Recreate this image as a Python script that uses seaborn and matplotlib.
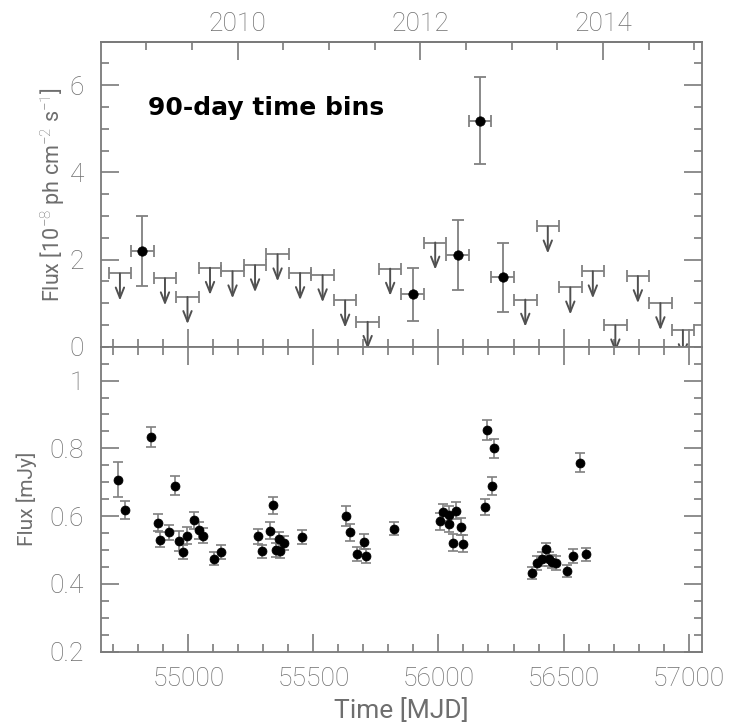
import numpy as np
import pandas as pd
import matplotlib
matplotlib.use("Agg")
import matplotlib.pyplot as plt
import seaborn as sns
from matplotlib.ticker import MultipleLocator, FuncFormatter, FixedLocator

# ---------------- data ----------------
# Top panel: Fermi-LAT 90-day bins (MJD bin centres)
ul_mjd = [54727, 54907, 54997, 55087, 55177, 55267, 55357, 55447, 55537, 55627,
          55717, 55807, 55987, 56347, 56437, 56527, 56617, 56707, 56797, 56887, 56977]
ul_val = [1.68, 1.57, 1.14, 1.81, 1.73, 1.87, 2.12, 1.69, 1.64, 1.06,
          0.57, 1.79, 2.39, 1.08, 2.76, 1.36, 1.73, 0.49, 1.62, 1.00, 0.38]
det_mjd = [54817, 55897, 56077, 56167, 56257]
det_val = [2.20, 1.20, 2.10, 5.19, 1.59]
det_err = [0.80, 0.60, 0.80, 1.00, 0.80]
bin_half_width = 45
year_ticks = [2010, 2012, 2014]

# Bottom panel: radio flux density
radio_mjd = [54718, 54747, 54851, 54878, 54888, 54922, 54948, 54964, 54980, 54994,
             55023, 55043, 55059, 55102, 55130, 55280, 55296, 55328, 55339, 55350,
             55363, 55366, 55384, 55455, 55630, 55648, 55676, 55702, 55712, 55822,
             56007, 56020, 56044, 56042, 56071, 56091, 56060, 56100, 56187, 56195,
             56223, 56215, 56375, 56394, 56414, 56428, 56440, 56454, 56471, 56514,
             56536, 56567, 56590]
radio_flux = [0.707, 0.618, 0.833, 0.580, 0.530, 0.553, 0.690, 0.526, 0.495, 0.542,
              0.588, 0.559, 0.542, 0.475, 0.494, 0.541, 0.496, 0.557, 0.632, 0.500,
              0.532, 0.497, 0.520, 0.538, 0.601, 0.552, 0.488, 0.524, 0.483, 0.563,
              0.585, 0.612, 0.604, 0.577, 0.616, 0.569, 0.522, 0.518, 0.626, 0.854,
              0.800, 0.689, 0.433, 0.462, 0.474, 0.502, 0.474, 0.466, 0.461, 0.438,
              0.483, 0.757, 0.487]
radio_err = [0.052, 0.026, 0.030, 0.025, 0.022, 0.022, 0.027, 0.030, 0.020, 0.025,
             0.025, 0.025, 0.022, 0.018, 0.020, 0.022, 0.020, 0.025, 0.025, 0.020,
             0.022, 0.020, 0.020, 0.020, 0.030, 0.025, 0.020, 0.022, 0.020, 0.020,
             0.025, 0.025, 0.025, 0.025, 0.025, 0.025, 0.025, 0.025, 0.024, 0.030,
             0.028, 0.026, 0.018, 0.020, 0.020, 0.020, 0.020, 0.020, 0.020, 0.018,
             0.020, 0.028, 0.020]

# ---------------- style ----------------
sns.set_style("ticks")
plt.rcParams["font.family"] = ["Roboto", "DejaVu Sans"]
plt.rcParams["font.weight"] = "light"
plt.rcParams["mathtext.fontset"] = "custom"
plt.rcParams["mathtext.rm"] = "Roboto"
plt.rcParams["mathtext.it"] = "Roboto"
plt.rcParams["mathtext.bf"] = "Roboto"

GREY = "#7a7a7a"
TXT = "#6e6e6e"
EC = "#808080"

fig = plt.figure(figsize=(7.3, 7.28), dpi=100)
ax1 = fig.add_axes([0.1379, 0.5238, 0.8233, 0.4190])
ax2 = fig.add_axes([0.1379, 0.1048, 0.8233, 0.4190])

xlim = (54650, 57052)

# ---------------- top panel ----------------
ax1.errorbar(ul_mjd, ul_val, xerr=bin_half_width, fmt="none", ecolor=EC,
             elinewidth=1.3, capsize=4, capthick=1.3, zorder=2)
for m, v in zip(ul_mjd, ul_val):
    ax1.annotate("", xy=(m, v), xytext=(0, -19.5), textcoords="offset points",
                 arrowprops=dict(arrowstyle="<-,head_length=0.75,head_width=0.3",
                                 mutation_scale=10, shrinkA=0, shrinkB=0,
                                 color="#505050", lw=1.4),
                 zorder=2)
ax1.errorbar(det_mjd, det_val, xerr=bin_half_width, yerr=det_err, fmt="none",
             ecolor=EC, elinewidth=1.3, capsize=4.5, capthick=1.3, zorder=2)
top_df = pd.DataFrame({"mjd": det_mjd, "flux": det_val})
sns.scatterplot(data=top_df, x="mjd", y="flux", ax=ax1, color="black", s=46,
                edgecolor="black", linewidth=0.5, zorder=3, legend=False)

ax1.set_xlim(*xlim)
ax1.set_ylim(0, 7)
ax1.yaxis.set_major_locator(MultipleLocator(2))
ax1.yaxis.set_minor_locator(MultipleLocator(0.5))
ax1.xaxis.set_major_locator(MultipleLocator(500))
ax1.xaxis.set_minor_locator(MultipleLocator(100))
ax1.yaxis.set_major_formatter(FuncFormatter(lambda v, p: f"{v:g}"))
ax1.set_xlabel("")
ax1.set_ylabel(r"Flux [10$^{-8}$ ph cm$^{-2}$ s$^{-1}$]", fontsize=15.5,
               color=TXT, labelpad=2)
ax1.tick_params(axis="x", which="both", bottom=True, top=False, labelbottom=False)
ax1.text(0.079, 0.783, "90-day time bins", transform=ax1.transAxes,
         fontsize=18, fontweight="bold", family="DejaVu Sans", color="black",
         va="center", ha="left")

# year axis on top
def mjd2yr(m):
    return 2000.0 + (np.asarray(m) - 51544.5) / 365.25

def yr2mjd(y):
    return 51544.5 + (np.asarray(y) - 2000.0) * 365.25

sec = ax1.secondary_xaxis("top", functions=(mjd2yr, yr2mjd))
sec.xaxis.set_major_locator(FixedLocator(year_ticks))
sec.xaxis.set_minor_locator(MultipleLocator(0.5))
sec.xaxis.set_major_formatter(FuncFormatter(lambda v, p: f"{v:.0f}"))
sec.tick_params(which="both", direction="in", color=GREY, width=1.2,
                labelsize=19, labelcolor=TXT, pad=4)
sec.tick_params(which="major", length=13)
sec.tick_params(which="minor", length=6)
sec.spines["top"].set_color(GREY)
sec.spines["top"].set_linewidth(1.3)

# ---------------- bottom panel ----------------
ax2.errorbar(radio_mjd, radio_flux, yerr=radio_err, fmt="none", ecolor=EC,
             elinewidth=1.2, capsize=3.5, capthick=1.2, zorder=2)
bot_df = pd.DataFrame({"mjd": radio_mjd, "flux": radio_flux})
sns.scatterplot(data=bot_df, x="mjd", y="flux", ax=ax2, color="black", s=42,
                edgecolor="black", linewidth=0.5, zorder=3, legend=False)
ax2.set_xlim(*xlim)
ax2.set_ylim(0.2, 1.1)
ax2.yaxis.set_major_locator(MultipleLocator(0.2))
ax2.yaxis.set_minor_locator(MultipleLocator(0.05))
ax2.xaxis.set_major_locator(MultipleLocator(500))
ax2.xaxis.set_minor_locator(MultipleLocator(100))
ax2.yaxis.set_major_formatter(FuncFormatter(lambda v, p: f"{v:g}"))
ax2.xaxis.set_major_formatter(FuncFormatter(lambda v, p: f"{v:.0f}"))
ax2.set_xlabel("Time [MJD]", fontsize=19, color=TXT, labelpad=5)
ax2.set_ylabel("Flux [mJy]", fontsize=15, color=TXT, labelpad=9)
ax2.tick_params(axis="x", which="both", bottom=True, top=True)

for ax in (ax1, ax2):
    ax.tick_params(which="both", direction="in", color=GREY, width=1.2,
                   labelsize=19, labelcolor=TXT, right=True, left=True)
    ax.tick_params(which="major", length=13)
    ax.tick_params(which="minor", length=6)
    ax.tick_params(axis="y", pad=12)
    ax.tick_params(axis="x", pad=11)
    for s in ax.spines.values():
        s.set_color(GREY)
        s.set_linewidth(1.3)
        s.set_visible(True)

fig.savefig("out.png", dpi=100)
